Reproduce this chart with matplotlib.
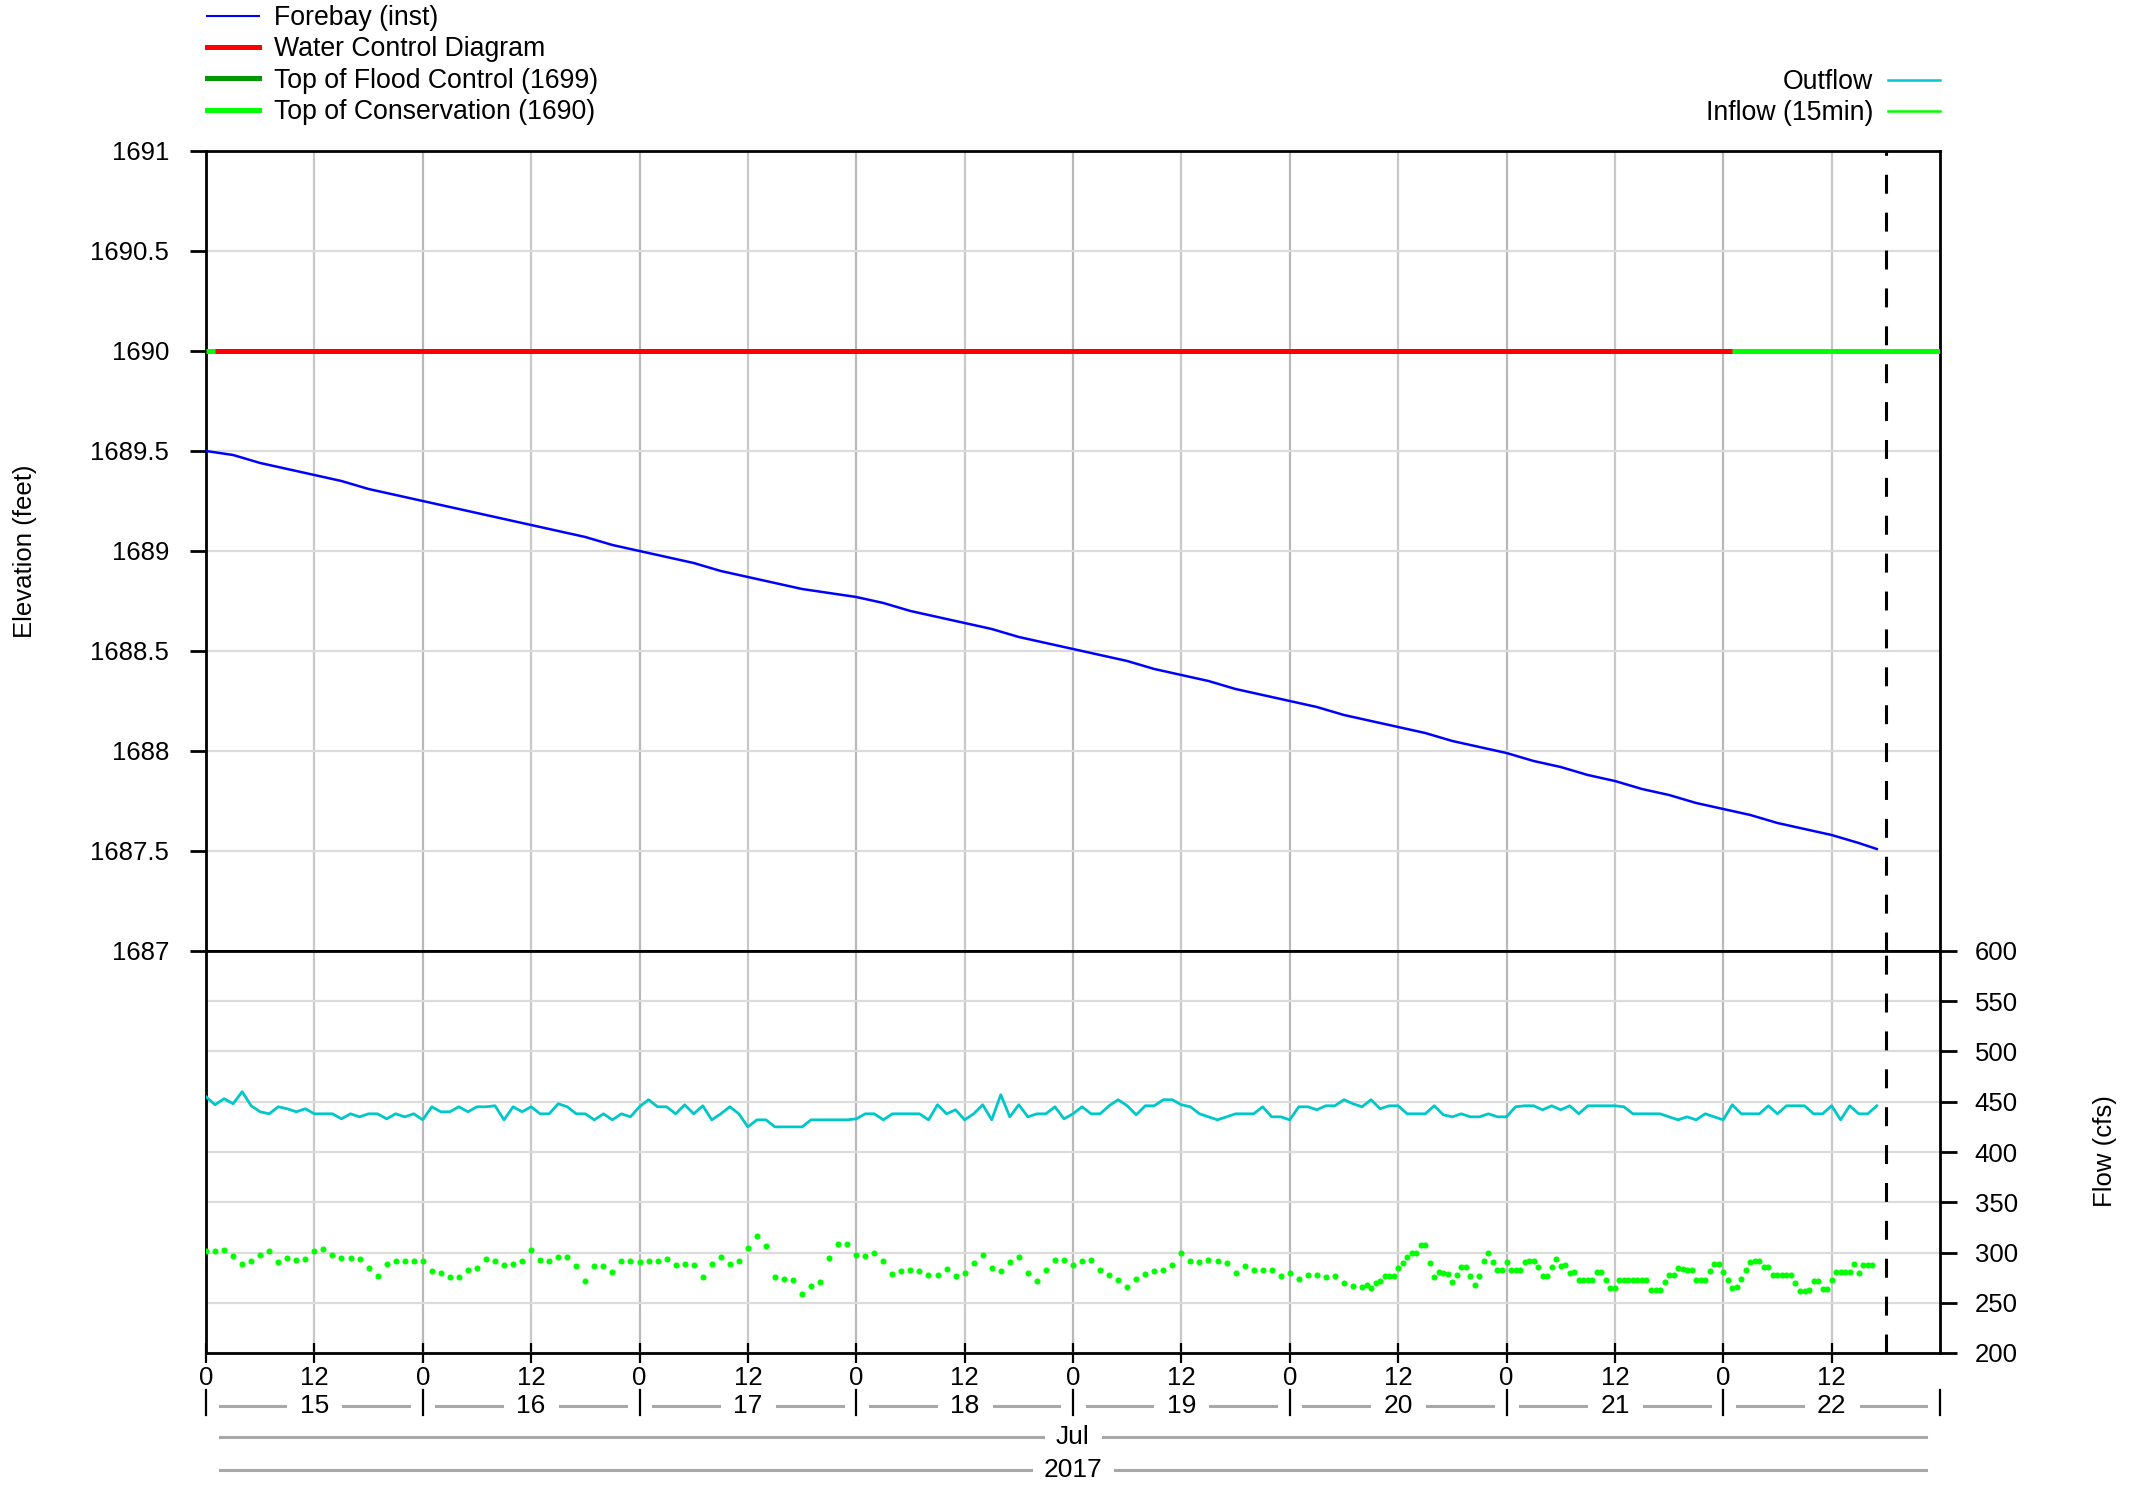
import matplotlib
matplotlib.use('Agg')
import matplotlib.pyplot as plt
import matplotlib.dates as mdates
import matplotlib.transforms as mtransforms
from matplotlib.lines import Line2D
from matplotlib.ticker import FixedLocator, FuncFormatter, MultipleLocator
import numpy as np
from datetime import datetime, timedelta

plt.rcParams['font.family'] = ['Liberation Sans', 'DejaVu Sans']
plt.rcParams['font.size'] = 18.5

# ---------------- data ----------------
START = datetime(2017, 7, 15)
END = datetime(2017, 7, 23)
now_time = datetime(2017, 7, 22, 18, 0)

day_labels = ['15', '16', '17', '18', '19', '20', '21', '22']
month_label = 'Jul'
year_label = '2017'

forebay_hours = list(range(0, 184, 3)) + [185]
forebay_elev = [
    1689.50, 1689.48, 1689.44, 1689.41, 1689.38, 1689.35, 1689.31, 1689.28,
    1689.25, 1689.22, 1689.19, 1689.16, 1689.13, 1689.10, 1689.07, 1689.03,
    1689.00, 1688.97, 1688.94, 1688.90, 1688.87, 1688.84, 1688.81, 1688.79,
    1688.77, 1688.74, 1688.70, 1688.67, 1688.64, 1688.61, 1688.57, 1688.54,
    1688.51, 1688.48, 1688.45, 1688.41, 1688.38, 1688.35, 1688.31, 1688.28,
    1688.25, 1688.22, 1688.18, 1688.15, 1688.12, 1688.09, 1688.05, 1688.02,
    1687.99, 1687.95, 1687.92, 1687.88, 1687.85, 1687.81, 1687.78, 1687.74,
    1687.71, 1687.68, 1687.64, 1687.61, 1687.58, 1687.54, 1687.51]

wcd_hours = [1, 169]
wcd_elev = [1690, 1690]
flood_hours = [0, 192]
flood_elev = [1699, 1699]
conservation_hours = [0, 192]
conservation_elev = [1690, 1690]

# hourly outflow from Jul 15 00:00
outflow_cfs = [
    455, 447, 453, 448, 460, 446, 440, 438, 445, 443, 440, 443,
    438, 438, 438, 433, 438, 435, 438, 438, 433, 438, 435, 438,
    432, 445, 440, 440, 445, 440, 445, 445, 446, 432, 445, 440,
    445, 438, 438, 448, 445, 438, 438, 432, 438, 432, 438, 435,
    445, 452, 445, 445, 438, 447, 438, 446, 432, 438, 445, 438,
    425, 432, 432, 425, 425, 425, 425, 432, 432, 432, 432, 432,
    433, 438, 438, 432, 438, 438, 438, 438, 432, 447, 438, 442,
    432, 438, 447, 432, 457, 435, 447, 435, 438, 438, 445, 433,
    438, 445, 438, 438, 446, 452, 446, 437, 446, 446, 452, 452,
    447, 445, 438, 435, 432, 435, 438, 438, 438, 445, 435, 435,
    432, 445, 445, 442, 446, 446, 452, 448, 445, 452, 443, 446,
    446, 438, 438, 438, 446, 437, 435, 438, 435, 435, 438, 435,
    435, 445, 446, 446, 442, 446, 442, 446, 438, 446, 446, 446,
    446, 445, 438, 438, 438, 438, 435, 432, 435, 432, 438, 435,
    432, 447, 438, 438, 438, 446, 438, 446, 446, 446, 438, 438,
    446, 432, 446, 438, 438, 446]

# hourly inflow, Jul 15 00:00 .. Jul 20 07:00
inflow_hourly = [
    301, 301, 302, 297, 289, 292, 298, 301, 291, 295, 293, 294,
    301, 303, 298, 295, 295, 294, 285, 277, 289, 292, 292, 292,
    292, 282, 280, 276, 276, 283, 285, 294, 292, 288, 289, 292,
    302, 293, 292, 296, 296, 287, 272, 287, 287, 281, 292, 292,
    291, 292, 292, 294, 288, 289, 288, 276, 289, 296, 289, 292,
    304, 316, 306, 276, 274, 273, 259, 267, 271, 295, 308, 308,
    298, 297, 300, 292, 279, 282, 283, 282, 278, 278, 284, 277,
    280, 290, 298, 285, 282, 291, 296, 280, 272, 283, 293, 293,
    288, 292, 293, 283, 278, 273, 266, 274, 279, 282, 283, 288,
    300, 292, 291, 293, 292, 290, 280, 287, 283, 283, 283, 277,
    280, 274, 278, 278, 276, 277, 270, 267]
# half-hourly inflow from Jul 20 08:00
inflow_halfhourly = [
    266, 268, 265, 270, 272, 277, 277, 277, 285, 290, 296, 300,
    300, 307, 307, 290, 276, 281, 280, 279, 271, 278, 286, 286,
    277, 268, 277, 292, 300, 291, 283, 283, 291, 283, 283, 283,
    291, 292, 292, 286, 277, 277, 286, 294, 287, 288, 280, 281,
    273, 273, 273, 273, 281, 281, 273, 265, 265, 273, 273, 273,
    273, 273, 273, 273, 263, 263, 263, 271, 278, 278, 285, 284,
    283, 283, 273, 273, 273, 282, 289, 289, 281, 273, 265, 266,
    274, 283, 291, 292, 292, 286, 286, 278, 278, 278, 278, 278,
    270, 262, 262, 263, 272, 272, 264, 264, 273, 281, 281, 281,
    281, 289, 280, 288, 288, 288]


def to_time(hours):
    return [START + timedelta(hours=float(h)) for h in hours]


outflow_hours = np.arange(len(outflow_cfs))
inflow_hours = np.concatenate([np.arange(len(inflow_hourly)),
                               len(inflow_hourly) + 0.5 * np.arange(len(inflow_halfhourly))])
inflow_cfs = inflow_hourly + inflow_halfhourly

# ---------------- figure ----------------
W, H = 2136, 1485
fig = plt.figure(figsize=(W / 100, H / 100), dpi=100)
L, R = 206, 1940
T1, B1, B2 = 151, 951, 1353
ax1 = fig.add_axes([L / W, 1 - B1 / H, (R - L) / W, (B1 - T1) / H])
ax2 = fig.add_axes([L / W, 1 - B2 / H, (R - L) / W, (B2 - B1) / H], sharex=ax1)

col_grid_h = '#dcdcdc'
col_grid_major = '#b8b8b8'
col_grid_minor = '#c8c8c8'

ndays = len(day_labels)
day_ticks = [mdates.date2num(START + timedelta(days=i)) for i in range(ndays)]
noon_ticks = [mdates.date2num(START + timedelta(days=i, hours=12)) for i in range(ndays)]

for ax in (ax1, ax2):
    ax.set_xlim(START, END)
    ax.xaxis.set_major_locator(FixedLocator(day_ticks))
    ax.xaxis.set_minor_locator(FixedLocator(noon_ticks))
    ax.grid(axis='x', which='major', color=col_grid_major, lw=1.6, zorder=0)
    ax.grid(axis='x', which='minor', color=col_grid_minor, lw=1.6, zorder=0)
    ax.grid(axis='y', which='major', color=col_grid_h, lw=1.6, zorder=0)
    ax.set_axisbelow(True)
    for s in ax.spines.values():
        s.set_linewidth(2.0)
        s.set_color('black')

# --- top panel
ax1.set_ylim(1687, 1691)
ax1.yaxis.set_major_locator(MultipleLocator(0.5))
ax1.yaxis.set_major_formatter(FuncFormatter(lambda v, p: '%g' % v))
ax1.tick_params(axis='y', direction='out', length=11.5, width=2, pad=15, labelsize=18.5)
ax1.tick_params(axis='x', which='both', length=0, labelbottom=False)

ax1.plot(to_time(flood_hours), flood_elev, color='#009900', lw=3.6, zorder=3)
ax1.plot(to_time(conservation_hours), conservation_elev, color='#00ff00', lw=3.6, zorder=3,
         solid_capstyle='butt')
ax1.plot(to_time(wcd_hours), wcd_elev, color='#ff0000', lw=3.6, zorder=4, solid_capstyle='butt')
ax1.plot(to_time(forebay_hours), forebay_elev, color='#0000ff', lw=1.8, zorder=5)
ax1.axvline(now_time, color='black', lw=2.2, ls=(0, (6.2, 6.2)), zorder=6)

# --- bottom panel
ax2.set_ylim(200, 600)
ax2.yaxis.set_major_locator(MultipleLocator(50))
ax2.yaxis.tick_right()
ax2.tick_params(axis='y', direction='out', length=12, width=2, pad=13, labelsize=18.5)
ax2.tick_params(axis='x', which='both', direction='inout', length=15, width=1.6, pad=2,
                labelsize=18.5)
hour_fmt = FuncFormatter(lambda v, p: str(mdates.num2date(v).hour))
ax2.xaxis.set_major_formatter(hour_fmt)
ax2.xaxis.set_minor_formatter(hour_fmt)

ax2.plot(to_time(outflow_hours), outflow_cfs, color='#00c8c8', lw=2.0, zorder=4)
ax2.plot(to_time(inflow_hours), inflow_cfs, 'o', color='#00ff00', ms=4.4, mec='none', zorder=4)
ax2.axvline(now_time, color='black', lw=2.2, ls=(0, (6.2, 6.2)), zorder=6)
ax2.set_xlim(START, END)

# --- date rows under the axis
trans = mtransforms.blended_transform_factory(ax2.transData, fig.transFigure)
gray = '#a8a8a8'
y_day = 1 - 1406 / H
y_sep0, y_sep1 = 1 - 1415 / H, 1 - 1390 / H
y_mon = 1 - 1437 / H
y_year = 1 - 1470 / H


def hnum(h):
    return mdates.date2num(START + timedelta(hours=h))


def gray_row(h0, h1, hc, half_gap, y):
    for a, b in ((h0, hc - half_gap), (hc + half_gap, h1)):
        fig.add_artist(Line2D([hnum(a), hnum(b)], [y, y], transform=trans, color=gray,
                              lw=2.2, zorder=1))


for i in range(ndays + 1):
    x = hnum(24 * i)
    fig.add_artist(Line2D([x, x], [y_sep0, y_sep1], transform=trans, color='black', lw=1.6))
for i, lab in enumerate(day_labels):
    gray_row(24 * i + 1.5, 24 * i + 22.5, 24 * i + 12, 3.2, y_day)
    fig.text(hnum(24 * i + 12), y_day, lab, transform=trans, ha='center', va='center',
             fontsize=19)
total_h = 24 * ndays
gray_row(1.5, total_h - 1.5, total_h / 2, 3.3, y_mon)
fig.text(hnum(total_h / 2), y_mon, month_label, transform=trans, ha='center', va='center',
         fontsize=19)
gray_row(1.5, total_h - 1.5, total_h / 2, 4.6, y_year)
fig.text(hnum(total_h / 2), y_year, year_label, transform=trans, ha='center', va='center',
         fontsize=19)

# --- axis titles
fig.text(25 / W, 1 - 551 / H, 'Elevation (feet)', rotation=90, ha='center', va='center',
         fontsize=18.5)
fig.text(2105 / W, 1 - 1151 / H, 'Flow (cfs)', rotation=90, ha='center', va='center',
         fontsize=18.5)

# --- legends
left_handles = [Line2D([], [], color='#0000ff', lw=1.5),
                Line2D([], [], color='#ff0000', lw=3.6),
                Line2D([], [], color='#009900', lw=3.6),
                Line2D([], [], color='#00ff00', lw=3.6)]
left_labels = ['Forebay (inst)', 'Water Control Diagram', 'Top of Flood Control (1699)',
               'Top of Conservation (1690)']
fig.legend(left_handles, left_labels, loc='upper left', bbox_to_anchor=(207 / W, 1 - 5 / H),
           frameon=False, borderpad=0, borderaxespad=0, handlelength=1.95, handletextpad=0.55,
           labelspacing=0.2, fontsize=19.2)
right_handles = [Line2D([], [], color='#00c8c8', lw=1.8),
                 Line2D([], [], color='#00ff00', lw=1.8)]
right_labels = ['Outflow', 'Inflow (15min)']
fig.legend(right_handles, right_labels, loc='upper right', bbox_to_anchor=(R / W, 1 - 69 / H),
           frameon=False, borderpad=0, borderaxespad=0, handlelength=1.95, handletextpad=0.55,
           labelspacing=0.2, fontsize=19.2, markerfirst=False)

fig.savefig('out.png', dpi=100)
